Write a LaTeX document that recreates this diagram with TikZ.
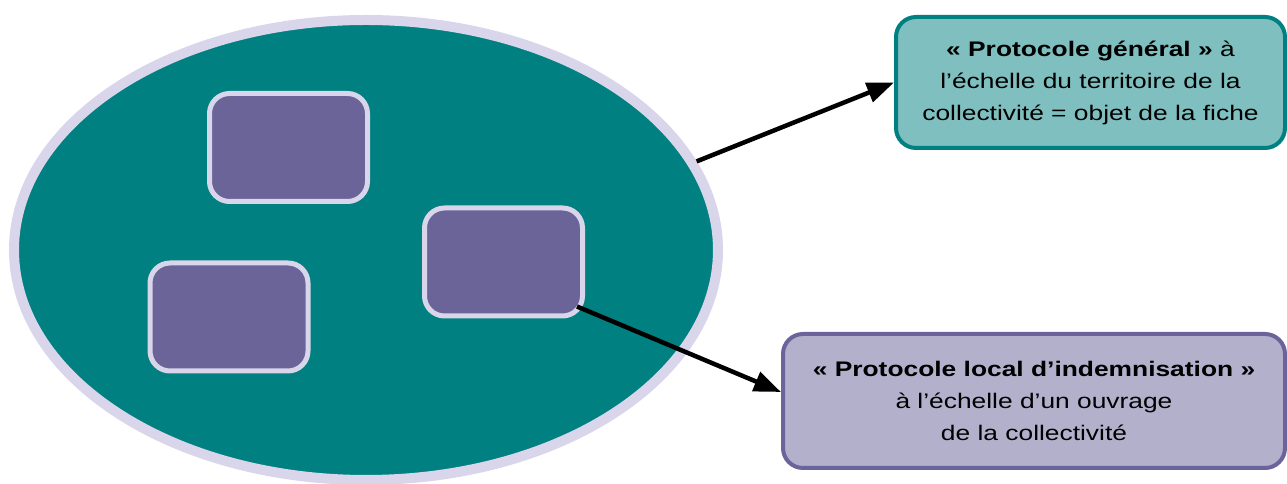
\documentclass[tikz,border=0pt]{standalone}
\usepackage{fontspec}
\setmainfont{Liberation Sans}
\newfontfamily\boxfont[FakeStretch=1.25]{Liberation Sans}
\usetikzlibrary{arrows.meta,shapes.geometric}
\definecolor{myteal}{RGB}{0,128,128}
\definecolor{lavborder}{RGB}{217,213,235}
\definecolor{purplefill}{RGB}{106,100,152}
\definecolor{genfill}{RGB}{128,191,191}
\definecolor{localfill}{RGB}{179,176,204}
\definecolor{localdraw}{RGB}{107,100,155}
\begin{document}
\begin{tikzpicture}
\useasboundingbox (0,0) rectangle (25.74,9.68);
\node[ellipse, draw=lavborder, line width=0.2cm, fill=myteal, minimum width=14.08cm, minimum height=9.2cm, inner sep=0pt] (terr) at (7.32, 4.68) {};

\tikzset{mybox/.style={draw=lavborder, line width=0.1cm, fill=purplefill, rounded corners=0.4cm, minimum width=3.16cm, minimum height=2.16cm, inner sep=0pt}};
\node[mybox] (box1) at (5.77, 6.73) {};
\node[mybox] (box2) at (10.07, 4.44) {};
\node[mybox] (box3) at (4.58, 3.34) {};

\tikzset{mytext/.style={rounded corners=0.4cm, align=center, font=\boxfont\fontsize{12}{18.2}\selectfont}};
\node[mytext, draw=myteal, line width=0.08cm, fill=genfill, minimum width=7.78cm, minimum height=2.62cm] (gen) at (21.81, 8.03) {\textbf{« Protocole général »} à\\ l’échelle du territoire de la\\ collectivité = objet de la fiche};
\node[mytext, draw=localdraw, line width=0.08cm, fill=localfill, minimum width=10.04cm, minimum height=2.68cm] (local) at (20.68, 1.66) {\textbf{« Protocole local d’indemnisation »}\\ à l’échelle d’un ouvrage\\ de la collectivité};

\tikzset{myarrow/.style={-{Triangle[length=0.54cm,width=0.4cm]}, line width=0.09cm}};
\path (terr.15) edge [myarrow] (gen.west);
\path ([shift={(-0.16cm,0.24cm)}]box2.south east) edge [myarrow] ([yshift=0.18cm]local.west);
\end{tikzpicture}
\end{document}
